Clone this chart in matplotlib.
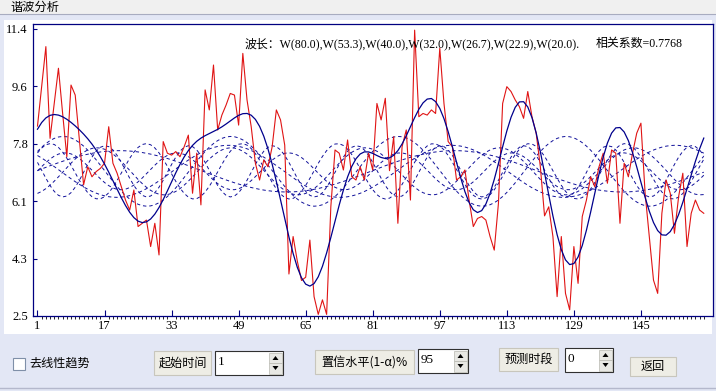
import matplotlib.pyplot as plt
import numpy as np
from matplotlib.patches import Rectangle, Polygon

series = [
    8.38, 9.60, 10.84, 8.00, 9.08, 10.17, 8.77, 7.43, 9.65, 9.34,
    7.95, 6.56, 7.12, 6.81, 6.97, 7.07, 7.23, 8.36, 7.23, 6.92,
    6.50, 6.09, 5.78, 6.40, 5.27, 5.37, 5.47, 4.65, 5.37, 4.39,
    7.90, 7.54, 7.48, 7.59, 7.43, 7.74, 8.10, 6.30, 7.54, 5.94,
    9.50, 8.88, 10.27, 8.26, 8.72, 9.03, 9.39, 9.34, 8.41, 10.63,
    9.19, 8.36, 7.23, 6.71, 7.33, 7.12, 7.74, 8.88, 8.57, 7.79,
    3.80, 4.96, 4.20, 3.60, 3.70, 4.85, 3.10, 2.55, 3.00, 2.55,
    5.88, 7.64, 7.54, 7.02, 7.95, 6.81, 6.71, 7.12, 6.71, 7.54,
    7.02, 9.08, 8.57, 9.24, 7.00, 8.05, 5.37, 7.74, 8.26, 6.09,
    11.35, 8.67, 8.77, 8.72, 8.88, 8.77, 10.79, 9.08, 7.90, 7.74,
    6.71, 6.81, 7.02, 6.09, 5.27, 5.52, 5.58, 5.47, 4.96, 4.54,
    5.99, 9.08, 9.60, 9.45, 9.19, 8.98, 8.62, 9.45, 8.67, 8.16,
    7.12, 5.60, 5.88, 4.96, 3.10, 4.96, 3.20, 2.69, 4.65, 3.51,
    5.58, 6.09, 6.81, 6.50, 7.12, 7.54, 6.61, 7.64, 7.54, 5.37,
    7.23, 6.81, 7.54, 8.16, 8.47, 6.30, 4.96, 3.61, 3.20, 5.68,
    6.71, 6.30, 5.06, 6.20, 6.92, 4.65, 5.68, 6.09, 5.78, 5.68,
]
periods = [80.0, 53.3, 40.0, 32.0, 26.7, 22.9, 20.0]
corr = 0.7768

xtick_pos = [1, 17, 33, 49, 65, 81, 97, 113, 129, 145]
ytick_pos = [2.5, 4.28, 6.06, 7.84, 9.62, 11.40]
ytick_lbl = ['2.5', '4.3', '6.1', '7.8', '9.6', '11.4']

# harmonic analysis of the series
y = np.array(series)
N = len(y)
t = np.arange(1, N + 1)
mean = y.mean()
comps = []
for p in periods:
    k = round(N / p)
    w = 2 * np.pi * k * t / N
    a = 2.0 / N * np.sum(y * np.cos(w))
    b = 2.0 / N * np.sum(y * np.sin(w))
    comps.append(a * np.cos(w) + b * np.sin(w))
fit = mean + np.sum(comps, axis=0)

W, H = 716, 391
fig = plt.figure(figsize=(W / 100, H / 100), dpi=100)
fig.patch.set_facecolor('#e3e7f5')

cjk = ['Noto Sans CJK SC', 'DejaVu Sans']
serif = ['Liberation Serif', 'Noto Sans CJK SC']


def box(x0, y0, x1, y1, fc, ec='none', lw=0.8, z=1):
    fig.add_artist(Rectangle((x0 / W, 1 - y1 / H), (x1 - x0) / W, (y1 - y0) / H,
                             transform=fig.transFigure, fc=fc, ec=ec, lw=lw, zorder=z))


def ftext(x, y, s, **kw):
    fig.text(x / W, 1 - y / H, s, va='center', zorder=3, **kw)


# window frame
box(0, 0, W, 13.5, '#f0f0f0', z=-2)
fig.add_artist(plt.Line2D([0, 1], [1 - 13.5 / H, 1 - 13.5 / H], color='#a8acc0', lw=0.8, zorder=-1))
box(4, 20, 712, 334, 'white', z=-2)
fig.add_artist(plt.Line2D([0, 1], [1 - 388 / H, 1 - 388 / H], color='#b4b8cc', lw=1, zorder=-1))
ftext(10, 7, '谐波分析', family=cjk, fontsize=8.8)

# chart
ax = fig.add_axes([33.3 / W, 1 - 316 / H, (713 - 33.3) / W, (316 - 24) / H])
ax.set_zorder(2)
for c in comps:
    ax.plot(t, mean + c, color='#10109a', lw=0.7, ls=(0, (3.5, 3)))
ax.plot(t, y, color='#e01414', lw=0.8)
ax.plot(t, fit, color='#00008c', lw=0.9)

ax.set_xlim(0, 162.2)
ax.set_ylim(2.5, 11.54)
ax.set_xticks(xtick_pos)
ax.set_xticks(np.arange(1, N + 1), minor=True)
ax.set_yticks(ytick_pos)
ax.set_yticklabels(ytick_lbl)
ax.tick_params(axis='both', direction='in', colors='#000080', labelcolor='black',
               labelsize=9, width=0.8)
ax.tick_params(axis='x', which='major', length=4, pad=3)
ax.tick_params(axis='x', which='minor', length=2, width=0.6)
ax.tick_params(axis='y', length=3, pad=4)
for lb in ax.get_xticklabels() + ax.get_yticklabels():
    lb.set_family('Liberation Serif')
for s in ax.spines.values():
    s.set_color('#000080')
    s.set_linewidth(0.9)

wl = ','.join('W(%.1f)' % p for p in periods)
ax.text(245 / W, 1 - 44 / H, '波长：' + wl + '.', transform=fig.transFigure,
        family=serif, fontsize=8.6, va='center')
ax.text(596 / W, 1 - 44 / H, '相关系数=%.4f' % corr, transform=fig.transFigure,
        family=serif, fontsize=8.6, va='center')

# control panel
box(13, 358, 25, 370, 'white', '#7f8fa8')
ftext(29, 363.5, '去线性趋势', family=cjk, fontsize=8.7)


def button(x0, y0, x1, y1, label):
    box(x0, y0, x1, y1, '#eeede5', '#c8c6bc')
    ftext((x0 + x1) / 2, (y0 + y1) / 2, label, family=cjk, fontsize=8.7, ha='center')


def spin(x0, y0, x1, y1, val):
    box(x0, y0, x1, y1, 'white', '#303030')
    ax0 = x1 - 14
    box(ax0, y0 + 1.5, x1 - 1, (y0 + y1) / 2, '#e8e8e4', '#b8b8b0', lw=0.5)
    box(ax0, (y0 + y1) / 2, x1 - 1, y1 - 1.5, '#e8e8e4', '#b8b8b0', lw=0.5)
    cx = (ax0 + x1 - 1) / 2
    ym = (y0 + y1) / 2
    up = [(cx - 3, ym - 3), (cx + 3, ym - 3), (cx, ym - 7)]
    dn = [(cx - 3, ym + 3), (cx + 3, ym + 3), (cx, ym + 7)]
    for tri in (up, dn):
        fig.add_artist(Polygon([(a / W, 1 - b / H) for a, b in tri], closed=True,
                               transform=fig.transFigure, fc='black', ec='none', zorder=2))
    ftext(x0 + 3, ym - 1, val, family=['Liberation Serif'], fontsize=9.5)


button(154, 351, 211, 375, '起始时间')
spin(215, 351, 283, 375, '1')
button(315, 350, 414, 374, '置信水平(1-α)%')
spin(418, 349, 468, 373, '95')
button(499, 348, 558, 371, '预测时段')
spin(565, 348, 613, 372, '0')
button(630, 357, 676, 376, '返回')

plt.savefig('out.png', dpi=100, facecolor=fig.get_facecolor())
